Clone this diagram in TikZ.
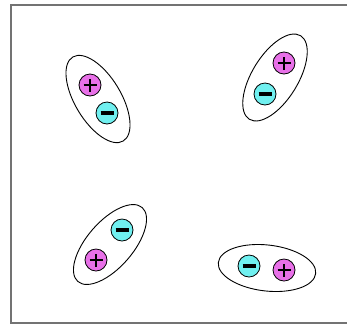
\documentclass[tikz,border=0pt]{standalone}
\usepackage{tikz}
\usetikzlibrary{
    positioning,
    calc,
    shapes.geometric
}
\definecolor{posmag}{RGB}{232,112,232}
\definecolor{negcyan}{RGB}{112,240,240}
\tikzset{
  dipole/.style  = {draw, ellipse, line width=0.9pt, inner sep=0pt,
                    minimum width=98pt, minimum height=46pt},
  charge/.style  = {draw, circle, line width=0.8pt, inner sep=0pt,
                    minimum size=22pt},
  poscharge/.style = {charge, fill=posmag,
                    path picture={\draw[line width=2.8pt]
                      ([xshift=-6.5pt]path picture bounding box.center) --
                      ([xshift=6.5pt]path picture bounding box.center)
                      ([yshift=-6.5pt]path picture bounding box.center) --
                      ([yshift=6.5pt]path picture bounding box.center);}},
  negcharge/.style = {charge, fill=negcyan,
                    path picture={\draw[line width=3.2pt]
                      ([xshift=-6.5pt]path picture bounding box.center) --
                      ([xshift=6.5pt]path picture bounding box.center);}}
}

\begin{document}
\begin{tikzpicture}[x=1pt, y=-1pt,
    frame/.style={draw=black!55, line width=2pt}
  ]
    \useasboundingbox (0,0) rectangle (347,325);
    \draw[frame] (11,4.5) rectangle (349,323);
    % dipoles
    \node[dipole, rotate=-59]   (d1) at (98,99)   {};
    \node[dipole, rotate=58.5]  (d2) at (275,77.5) {};
    \node[dipole, rotate=49]    (d3) at (110,244.5) {};
    \node[dipole, rotate=-6.5]  (d4) at (267,268) {};
    % charges
    \node[poscharge] (p1) at (90,85)   {}; \node[negcharge] (m1) at (107,113) {};
    \node[poscharge] (p2) at (284,63)  {}; \node[negcharge] (m2) at (265,94)  {};
    \node[negcharge] (m3) at (122,230) {}; \node[poscharge] (p3) at (96,260)  {};
    \node[negcharge] (m4) at (249,266) {}; \node[poscharge] (p4) at (284,270) {};
  \end{tikzpicture}
\end{document}
